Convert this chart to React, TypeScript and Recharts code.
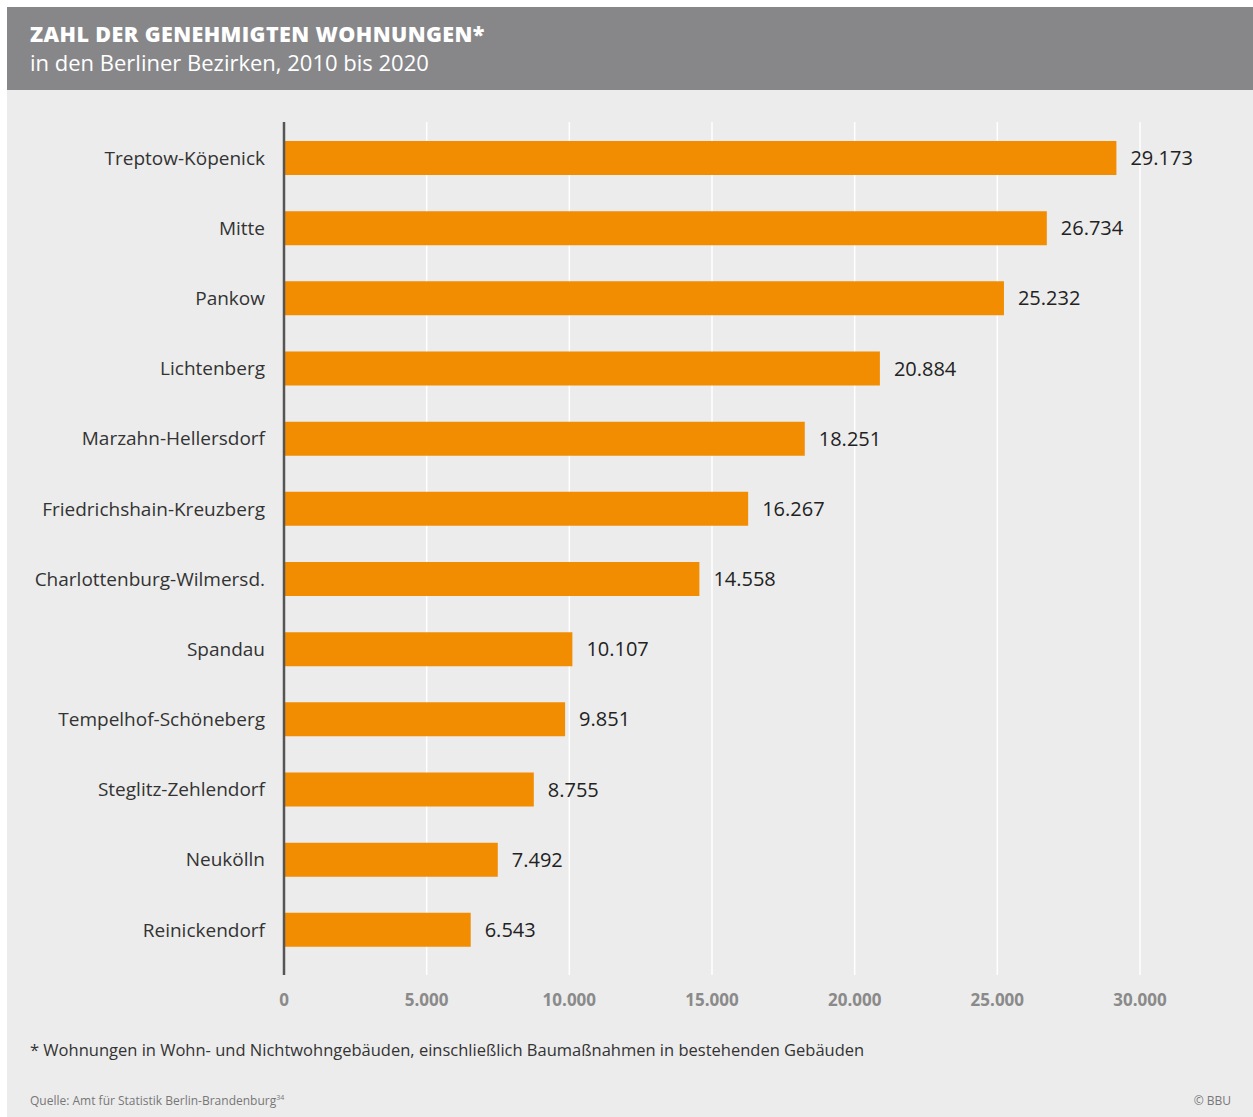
import { BarChart, Bar, XAxis, YAxis, CartesianGrid, LabelList } from 'recharts'

const districts = [
  'Treptow-Köpenick',
  'Mitte',
  'Pankow',
  'Lichtenberg',
  'Marzahn-Hellersdorf',
  'Friedrichshain-Kreuzberg',
  'Charlottenburg-Wilmersd.',
  'Spandau',
  'Tempelhof-Schöneberg',
  'Steglitz-Zehlendorf',
  'Neukölln',
  'Reinickendorf',
]
const approvals = [29173, 26734, 25232, 20884, 18251, 16267, 14558, 10107, 9851, 8755, 7492, 6543]
const xTicks = [0, 5000, 10000, 15000, 20000, 25000, 30000]

const FONT = '"Open Sans", "Noto Sans", sans-serif'
const ORANGE = '#f28c00'

// German thousands separator
const fmt = (v: number) => String(v).replace(/\B(?=(\d{3})+(?!\d))/g, '.')

const data = districts.map((name, i) => ({ name, value: approvals[i] }))

export default function App() {
  return (
    <div
      style={{
        position: 'absolute',
        left: 7,
        top: 7,
        width: 1246,
        height: 1110,
        background: '#ececec',
        fontFamily: FONT,
      }}
    >
      <div style={{ position: 'relative', height: 83, background: '#87878a', color: '#fff' }}>
        <div style={{ position: 'absolute', left: 23, top: 15, fontSize: 21.5, fontWeight: 800, letterSpacing: 0.4, lineHeight: '24px', whiteSpace: 'nowrap' }}>
          ZAHL DER GENEHMIGTEN WOHNUNGEN*
        </div>
        <div style={{ position: 'absolute', left: 23, top: 42, fontSize: 22, lineHeight: '26px', whiteSpace: 'nowrap' }}>
          in den Berliner Bezirken, 2010 bis 2020
        </div>
      </div>

      <BarChart
        width={1246}
        height={940}
        data={data}
        layout="vertical"
        margin={{ top: 32, right: 113, bottom: 15, left: 0 }}
        barSize={34}
      >
        <CartesianGrid horizontal={false} stroke="#ffffff" strokeWidth={1.5} />
        <XAxis
          type="number"
          domain={[0, 30000]}
          ticks={xTicks}
          tickFormatter={fmt}
          axisLine={false}
          tickLine={false}
          tickSize={0}
          tickMargin={19}
          height={40}
          tick={{ fill: '#8a8a8a', fontSize: 17, fontWeight: 700, fontFamily: FONT }}
        />
        <YAxis
          type="category"
          dataKey="name"
          width={277}
          axisLine={{ stroke: '#555555', strokeWidth: 2.5 }}
          tickLine={false}
          tickSize={0}
          tickMargin={19}
          padding={{ top: 1, bottom: 10 }}
          interval={0}
          tick={{ fill: '#333333', fontSize: 19, fontFamily: FONT }}
        />
        <Bar dataKey="value" fill={ORANGE} isAnimationActive={false}>
          <LabelList
            dataKey="value"
            position="right"
            offset={14}
            formatter={(v: any) => fmt(Number(v))}
            style={{ fill: '#222222', fontSize: 20, fontFamily: FONT }}
          />
        </Bar>
      </BarChart>

      <div style={{ position: 'absolute', left: 23, top: 1031, fontSize: 16.5, color: '#333', whiteSpace: 'nowrap' }}>
        * Wohnungen in Wohn- und Nichtwohngebäuden, einschließlich Baumaßnahmen in bestehenden Gebäuden
      </div>
      <div style={{ position: 'absolute', left: 23, top: 1085, fontSize: 12, color: '#777' }}>
        Quelle: Amt für Statistik Berlin-Brandenburg<sup style={{ fontSize: 7 }}>34</sup>
      </div>
      <div style={{ position: 'absolute', right: 22, top: 1085, fontSize: 12, color: '#777' }}>© BBU</div>
    </div>
  )
}
